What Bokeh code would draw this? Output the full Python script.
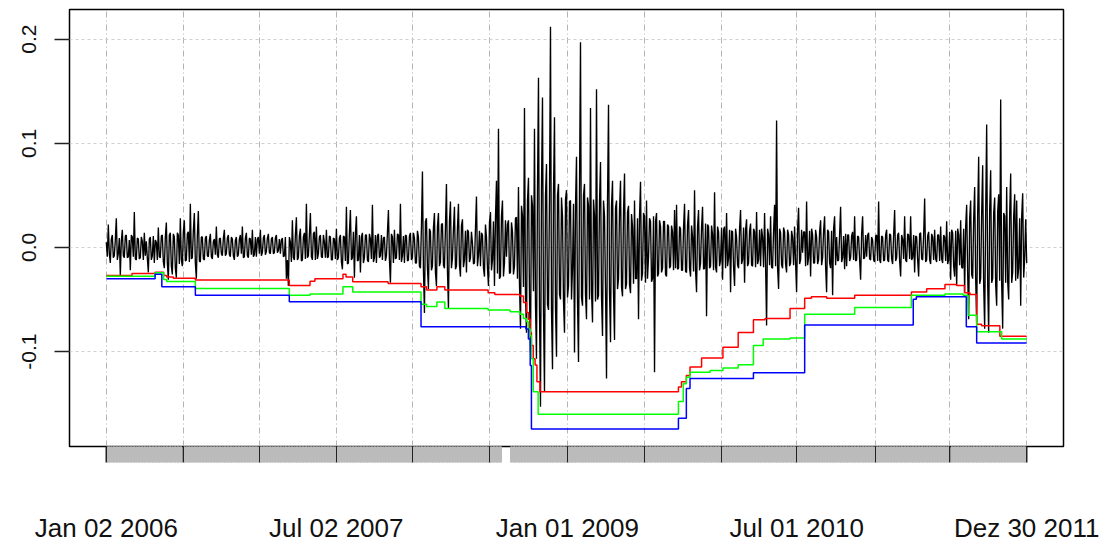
import numpy as np
from bokeh.plotting import figure
from bokeh.models import Range1d, FixedTicker
from bokeh.embed import file_html
from bokeh.resources import INLINE

# ---------------------------------------------------------------- data
# daily log returns, 2006-01-02 .. 2011-12-30 (units: 1/1000),
# stored as two interleaved sub-samples (odd / even days)
ret_odd = [
    5, 22, -15, 12, -8,      28, -6, -27, 17, -10,    12, -9, -22, 10, 34,
    -12, 8, -10, 6, 14,      6, -24, 10, -8, -15,     5, 19, -10, 12, -20,
    24, -31, 14, -26, 10,    -29, 12, 28, -18, 26,    -12, 15, 42, -10, 33,
    -30, 35, -14, 10, -12,   11, -9, 13, -11, 8,      20, -10, 9, -8, 17,
    -6, 12, -9, 8, -12,      10, -7, 12, 20, -9,      14, -10, 8, 17, -7,
    -9, 10, 17, -5, 12,      -4, 13, -6, 10, -5,      12, -3, -6, 9, -8,
    -30, -37, 5, 26, -12,    29, -10, 18, -12, 14,    42, -8, 33, -12, 15,
    20, -6, 12, -10, 5,      17, -9, 10, -12, 8,      18, -10, 12, -21, 10,
    39, -15, 36, -10, -29,   30, -12, -24, 14, -10,   12, -14, 8, 41, -10,
    -15, 13, -8, -12, 10,    -8, 36, -34, 10, 17,     -10, 12, 42, -8, -15,
    11, -12, 14, -10, 9,     -15, 10, -20, 73, -63,   28, -40, 15, -18, 33,
    -37, 33, -14, 23, -20,   61, -59, 44, -10, 39,     -18, 42, -28, 27, -12,
    -24, 15, -10, 4, -15,    49, -8, -18, 12, -28,    10, -37, 34, -12, -37,
    64, 114, -28, 45, -15,   -9, 26, -24, 15, -18,     29, 58, -78, 30, 134,
    -82, 67, -101, 40, 114,  -107, 163, -153, 144, -138,  80, -60, 212, -117, 125,
    -105, 61, -50, 30, -82,  55, -37, 45, -20, -101,  87, -110, 197, -56, 61,
    -69, 40, 134, -72, 30,   152, -46, 82, -85, 30,   -126, 137, -91, 64, -89,
    45, -30, 64, -47, 71,    -35, 40, -44, 20, 45,    -30, -69, 63, -25, 30,
    45, -9, 25, -30, -120,   33, -25, 20, -20, 25,    -28, 20, -18, 15, 36,
    41, -20, 18, -22, 42,    -24, 36, -28, 10, 55,    -43, 36, -15, 39, -20,
    -66, 20, -18, 12, 53,    -24, 15, -12, -31, 20,   33, -10, -43, 15, -37,
    10, -20, 36, -12, -34,   27, -15, 23, -18, 15,    34, -12, -18, 10, 33,
    -75, 12, 30, -20, 41,    122, -40, 14, -20, 15,   -24, 12, -15, 10, 20,
    -43, 38, -12, -5, 15,    44, -10, -28, 12, -15,   10, -12, 26, -10, 30,
    -43, 15, -20, -46, 30,   10, -12, 39, -10, -21,   -18, 12, -10, 15, 30,
    -12, 10, -31, 30, -10,   -9, 14, -12, 7, -14,     12, 44, -15, 10, -12,
    17, -14, 12, -16, 36,    -10, 14, -28, 8, 30,     -14, 12, 30, -10, -24,
    10, -28, 14, -12, 47,    -12, 15, -16, 10, 17,    -14, 12, 20, -15, 10,
    25, -12, -31, 14, -28,   -37, 12, 26, -20, -43,   41, -69, 45, -30, 58,
    -72, 87, -30, 79, -78,   118, -82, 74, -30, 48,   -56, 51, 142, -78, 30,
    58, -50, 71, -24, 51,    45, -20, -56, 52, -10,
    -15,
]
ret_even = [
    -9, -6, 8, -10, 7,       -12, 9, 6, -8, 11,       -10, 7, 12, -9, -11,
    9, -11, 10, -12, -8,     -10, 8, -12, 11, 7,      -12, -9, 11, -14, 10,
    -15, 12, -18, 13, -20,   14, -16, -12, 15, -13,   13, -14, -11, 16, -15,
    12, -13, 10, -11, 9,     -8, 7, -9, 6, -7,        -7, 8, -6, 9, -8,
    9, -7, 10, -8, 7,        -9, 8, -6, -10, 9,       -8, 9, -7, -9, 10,
    8, -6, -8, 9, -7,        9, -5, 8, -6, 9,         -5, 8, 7, -9, 10,
    -12, 10, -14, -10, 12,   -12, 11, -13, 10, -11,   -10, 12, -9, 13, -12,
    -11, 10, -9, 12, -10,    -10, 11, -12, 9, -11,    -12, 9, -14, 11, -13,
    -16, 14, -12, 15, 13,    -13, 12, 10, -15, 12,    -12, 13, -11, -14, 12,
    11, -10, 12, 9, -13,     14, -12, 13, -15, -11,   13, -12, -14, 11, 12,
    -13, 11, -12, 14, -15,   16, -18, 20, -22, 25,    -20, 18, -22, 19, -24,
    20, -18, 22, -17, 19,    -22, 25, -20, 18, -21,   19, -17, 21, -19, 16,
    17, -14, 15, -16, 18,    -18, 16, 14, -20, 22,    -20, 24, -22, 25, 28,
    -25, -30, 30, -28, 26,   22, -25, 24, -26, 28,    -30, -35, 40, -38, -45,
    45, -48, 50, -42, -55,   55, -60, 58, -62, 50,     -55, 48, -60, 52, -58,
    50, -45, 48, -52, 46,    -48, 44, -50, 42, 40,    -52, 55, -48, 50, -45,
    48, -50, -42, 46, -52,   -50, 44, -48, 45, -40,   45, -42, 40, -44, 38,
    -40, 36, -38, 35, -40,   34, -36, 32, -35, -30,   28, 30, -32, 33, -34,
    -30, 28, -33, 30, 25,    -28, 26, -24, 25, -26,   22, -20, 21, -22, -20,
    -21, 20, -22, 19, -23,   22, -20, 21, -23, -22,   20, -22, 19, -21, 23,
    22, -20, 21, -22, -19,   20, -18, 19, 17, -20,    -18, 17, 16, -19, 18,
    -17, 18, -16, 19, 17,    -18, 16, -17, 18, -19,   -16, 17, 18, -19, -16,
    18, -17, -19, 16, -18,   -20, 18, -17, 19, -16,   17, -18, 16, -17, -15,
    18, -16, 17, 15, -18,    -17, 16, 18, -15, 17,    -16, 15, -17, 16, -18,
    17, -15, 16, 18, -17,    -13, 12, -14, 11, 13,    12, -13, 11, -12, -13,
    11, -12, 13, -11, 12,    12, -11, 10, -12, 11,    -13, -12, 11, -13, 12,
    -12, 13, -11, 12, -13,   12, -13, 12, -11, -12,   13, -11, -12, 12, 11,
    -12, 13, -11, 12, -14,   11, -12, 13, -12, -11,   12, -13, -11, 12, -13,
    -16, 15, 17, -18, 16,    18, -17, -19, 18, 20,    -25, 28, -26, 27, -30,
    32, -35, 33, -36, 34,    -35, 36, -34, 33, -36,   34, -32, -35, 33, -34,
    -33, 32, -34, 30, -32,   -30, 28, 30, -29, 27,
]

n_obs = 1510  # trading days in the sample

# rolling Value-at-Risk estimates: (first observation, level in 1/1000)
var_red = [
    (0, -27.0), (42, -25.1), (80, -23.8), (94, -27.0), (99, -28.3), (110, -29.5),
    (146, -31.4), (300, -36.5), (334, -32.4), (342, -30.2), (388, -25.7),
    (393, -28.3), (404, -33.0), (462, -34.6), (516, -37.8), (525, -41.0),
    (542, -37.8), (555, -41.0), (626, -43.5), (637, -45.1), (678, -46.7),
    (684, -53.0), (689, -62.5), (692, -68.9), (695, -81.6), (697, -94.3),
    (700, -107.0), (703, -113.0), (706, -129.0), (711, -138.7), (938, -134.0),
    (943, -129.0), (951, -122.9), (957, -114.9), (976, -106.3), (1011, -95.9),
    (1036, -81.6), (1061, -69.5), (1080, -68.3), (1121, -58.7), (1145, -48.9),
    (1156, -47.3), (1181, -48.9), (1227, -46.0), (1320, -42.9), (1345, -39.7),
    (1375, -35.6), (1394, -36.5), (1407, -43.5), (1416, -45.1), (1427, -73.7),
    (1435, -75.2), (1465, -85.4),
]
var_green = [
    (0, -27.6), (80, -24.4), (94, -30.8), (99, -32.7), (146, -39.4),
    (300, -46.0), (334, -44.8), (388, -37.8), (404, -42.9), (516, -54.6),
    (525, -56.8), (542, -52.4), (555, -58.7), (626, -60.0), (662, -61.9),
    (678, -64.1), (684, -68.3), (689, -71.4), (692, -78.4), (695, -84.8),
    (697, -107.0), (700, -138.7), (708, -160.3), (938, -148.0), (946, -131.0),
    (951, -124.8), (957, -120.0), (990, -118.1), (1011, -115.9), (1036, -112.7),
    (1061, -94.3), (1077, -87.9), (1121, -87.0), (1145, -64.1), (1227, -57.8),
    (1320, -46.0), (1375, -44.8), (1405, -46.0), (1413, -65.1), (1427, -81.0),
    (1468, -87.9),
]
var_blue = [
    (0, -30.2), (80, -25.7), (91, -37.8), (146, -46.0), (300, -52.1),
    (516, -76.2), (688, -78.4), (692, -87.9), (695, -113.3), (697, -174.3),
    (938, -164.0), (951, -135.6), (957, -126.0), (1061, -120.3), (1145, -74.6),
    (1323, -49.8), (1328, -47.3), (1410, -76.2), (1427, -91.7),
]

# axis ticks (observation numbers) and their labels
tick_obs = [0, 126, 251, 377, 502, 628, 756, 882, 1009, 1132, 1261, 1383, 1509]
tick_labels = {0: "Jan 02 2006", 377: "Jul 02 2007", 756: "Jan 01 2009",
               1132: "Jul 01 2010", 1509: "Dez 30 2011"}
obs_gap = (649, 662)          # observations without a minor tick
y_ticks = [-0.1, 0.0, 0.1, 0.2]
y_labels = {-0.1: "-0.1", 0.0: "0.0", 0.1: "0.1", 0.2: "0.2"}

# ---------------------------------------------------------------- figure
FONT = "Liberation Sans"
last = n_obs - 1
pad = 0.04 * last

p = figure(width=1109, height=545, output_backend="svg", toolbar_location=None,
           x_range=Range1d(-pad, last + pad), y_range=Range1d(-0.1912, 0.2285),
           min_border_left=69, min_border_right=46, min_border_top=9,
           min_border_bottom=98)
p.background_fill_color = "white"
p.border_fill_color = "white"
p.outline_line_color = "black"
p.outline_line_width = 1.5

# grid
p.xgrid.ticker = FixedTicker(ticks=tick_obs)
p.xgrid.grid_line_color = "#B4B4B4"
p.xgrid.grid_line_dash = "6 3 1 3"
p.xgrid.grid_line_width = 1
p.ygrid.ticker = FixedTicker(ticks=y_ticks)
p.ygrid.grid_line_color = "#D0D0D0"
p.ygrid.grid_line_dash = "3 3"
p.ygrid.grid_line_width = 1

# x axis: one grey minor tick per observation, black major ticks
minor = [i for i in range(n_obs)
         if not (obs_gap[0] <= i <= obs_gap[1])
         and min(abs(i - t) for t in tick_obs) > 1]
xa = p.xaxis[0]
xa.ticker = FixedTicker(ticks=tick_obs, minor_ticks=minor)
xa.major_label_overrides = {t: tick_labels.get(t, "") for t in tick_obs}
xa.axis_line_color = None
xa.major_tick_in = 0
xa.major_tick_out = 16
xa.major_tick_line_color = "#222222"
xa.major_tick_line_width = 2
xa.minor_tick_in = 0
xa.minor_tick_out = 16
xa.minor_tick_line_color = "#BBBBBB"
xa.minor_tick_line_width = 1
xa.major_label_standoff = 50
xa.major_label_text_font = FONT
xa.major_label_text_font_size = "26px"
xa.major_label_text_color = "#111111"

ya = p.yaxis[0]
ya.ticker = FixedTicker(ticks=y_ticks)
ya.major_label_overrides = y_labels
ya.axis_line_color = None
ya.major_tick_in = 0
ya.major_tick_out = 15
ya.major_tick_line_color = "#222222"
ya.major_tick_line_width = 1.5
ya.minor_tick_line_color = None
ya.major_label_orientation = "vertical"
ya.major_label_standoff = 18
ya.major_label_text_font = FONT
ya.major_label_text_font_size = "21px"
ya.major_label_text_color = "#111111"

# returns: merge the two sub-samples back into day order
ret = np.empty(len(ret_odd) + len(ret_even))
ret[0::2] = ret_odd
ret[1::2] = ret_even
ret /= 1000.0
obs = np.linspace(0, last, len(ret))
p.line(obs, ret, line_color="black", line_width=1.35)

# VaR step lines
def steps(levels):
    xs = [s for s, _ in levels] + [last]
    ys = [v / 1000 for _, v in levels] + [levels[-1][1] / 1000]
    return xs, ys

for levels, col in ((var_red, "#FF0000"), (var_green, "#00FF00"), (var_blue, "#0000FF")):
    xs, ys = steps(levels)
    p.step(xs, ys, mode="after", line_color=col, line_width=1.5)

open("out.html", "w").write(file_html(p, INLINE))
